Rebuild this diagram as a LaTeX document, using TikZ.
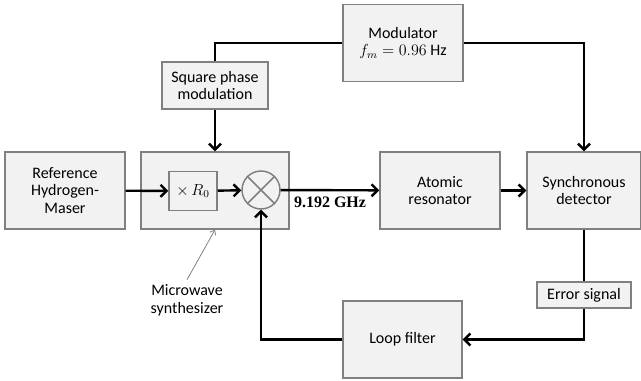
\documentclass[tikz,border=0pt]{standalone}
\usepackage{fontspec}
\setmainfont{Carlito}
\newfontfamily\labelserif{Liberation Serif}
\usetikzlibrary{arrows.meta}

\begin{document}
\begin{tikzpicture}[x=0.75pt, y=-0.75pt,
	font=\fontsize{12}{13.2}\selectfont,
	block/.style={draw=gray, fill=black!5, line width=1.1pt, align=center, inner sep=2pt,
		minimum width=90pt, minimum height=57.75pt},
	link/.style={line width=1.8pt},
	arrowlink/.style={link, -{Straight Barb[length=4.5pt, width=9pt]}},
	pointer/.style={draw=gray, line width=0.6pt, -{Straight Barb[length=3pt, width=5pt]}}]
	\useasboundingbox (0,0) rectangle (641,381);
	
	\node[block] (maser) at (65,190.5) {Reference\\Hydrogen-\\Maser};
	\node[block, minimum width=111pt] (synth) at (215,190.5) {};
	\node[block, minimum width=36pt, minimum height=29.25pt] (mult) at (193,191) {$\times\, R_0$};
	\node[draw=gray, line width=1.1pt, circle, minimum size=28.5pt, inner sep=0pt] (mixer) at (261,190) {};
	\draw[gray, line width=1.1pt] (mixer.north east) -- (mixer.south west);
	\draw[gray, line width=1.1pt] (mixer.north west) -- (mixer.south east);
	
	\node[block, minimum width=79.5pt, minimum height=35.25pt] (spm) at (215,85.5) {Square phase\\modulation};
	\node[block] (mod) at (403,43) {Modulator\\$f_m = 0.96$ Hz};
	\node[block] (atomic) at (440,190.5) {Atomic\\resonator};
	\node[block, minimum width=85.5pt] (sync) at (584,190.5) {Synchronous\\detector};
	\node[block, minimum width=70.5pt, minimum height=19.5pt] (err) at (584,295) {Error signal};
	\node[block, minimum width=89.25pt] (loop) at (402.5,339.5) {Loop filter};
	\node[align=center] (mwlabel) at (187,300) {Microwave\\synthesizer};
	
	\draw[arrowlink] (maser) to (mult);
	\draw[arrowlink] (mult) to (mixer);
	\draw[arrowlink] (mixer) to node[below=1pt] {\labelserif\bfseries 9.192 GHz} (atomic);
	\draw[arrowlink] (atomic) to (sync);
	\draw[arrowlink] (spm) to (synth);
	\draw[link] (spm.north) |- (mod.west);
	\draw[arrowlink] (mod.east) -| (sync.north);
	\draw[link] (sync) to (err);
	\draw[arrowlink] (err.south) |- (loop.east);
	\draw[arrowlink] (loop.west) -| (mixer.south);
	\draw[pointer] (mwlabel.north) to (synth.south);
\end{tikzpicture}
\end{document}
